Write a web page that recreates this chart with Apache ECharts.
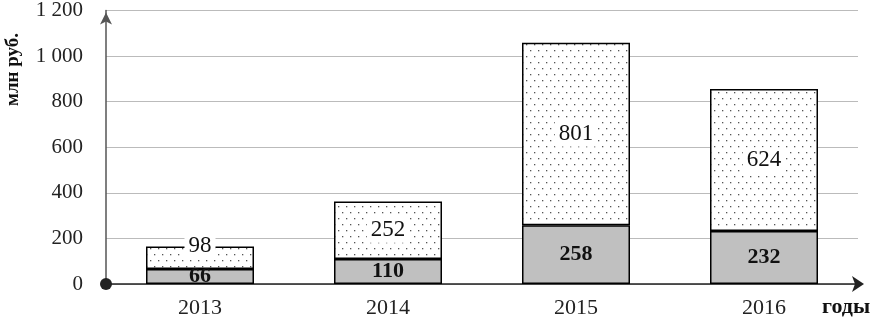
<!DOCTYPE html>
<html><head><meta charset="utf-8">
<script src="https://cdn.jsdelivr.net/npm/echarts@6/dist/echarts.min.js"></script>
<style>html,body{margin:0;padding:0;background:#fff}#c{width:878px;height:319px}</style>
</head><body><div id="c"></div>
<script>
var categories = ['2013', '2014', '2015', '2016'];
var lowerValues = [66, 110, 258, 232];
var upperValues = [98, 252, 801, 624];
var yTicks = [0, 200, 400, 600, 800, 1000, 1200];

var tile = document.createElement('canvas');
tile.width = 16; tile.height = 12;
var g = tile.getContext('2d');
g.fillStyle = '#fff'; g.fillRect(0, 0, 16, 12);
g.fillStyle = '#555';
g.fillRect(2, 2, 1.3, 1.3);
g.fillRect(10, 2, 1.3, 1.3);
g.fillRect(6, 8, 1.3, 1.3);
g.fillRect(14, 8, 1.3, 1.3);

var serif = '"Liberation Serif", "Times New Roman", serif';
var chart = echarts.init(document.getElementById('c'));
chart.setOption({
  animation: false,
  grid: {left: 106, right: 20, top: 8, bottom: 34},
  xAxis: {
    type: 'category', data: categories,
    axisLine: {lineStyle: {color: '#222', width: 1.5}, symbol: ['circle', 'arrow'], symbolSize: [12, 12], symbolOffset: [0, 6]},
    axisTick: {show: false},
    axisLabel: {fontFamily: serif, fontSize: 22, color: '#222', margin: 13}
  },
  yAxis: {
    type: 'value', min: 0, max: 1200, interval: 200,
    axisLine: {show: true, lineStyle: {color: '#555', width: 1.5}, symbol: ['none', 'arrow'], symbolSize: [9, 12], symbolOffset: [0, -2]},
    axisTick: {show: false},
    splitLine: {lineStyle: {color: '#bbb', width: 1}},
    axisLabel: {fontFamily: serif, fontSize: 21, color: '#222', margin: 23,
      formatter: function (v) { return String(v).replace(/\B(?=(\d{3})+(?!\d))/g, ' '); }}
  },
  graphic: [
    {type: 'text', x: 4, y: 106, rotation: Math.PI / 2,
     style: {text: 'млн руб.', font: 'bold 19px ' + serif, fill: '#111'}},
    {type: 'text', x: 822, y: 296,
     style: {text: 'годы', font: 'bold 22px ' + serif, fill: '#111'}}
  ],
  series: [
    {type: 'bar', stack: 's', barWidth: 108, data: lowerValues,
     itemStyle: {color: '#c0c0c0', borderColor: '#000', borderWidth: 1.5},
     label: {show: true, position: 'inside', fontFamily: serif, fontSize: 22, fontWeight: 'bold', color: '#111'}},
    {type: 'bar', stack: 's', barWidth: 108,
     data: upperValues.map(function (v, i) {
       return i === 0 ? {value: v, label: {offset: [0, -12]}} : v;
     }),
     itemStyle: {color: {image: tile, repeat: 'repeat'}, borderColor: '#000', borderWidth: 1.5},
     label: {show: true, position: 'inside', fontFamily: serif, fontSize: 23, color: '#111',
       backgroundColor: '#fff', padding: [1, 4]}}
  ]
});
</script></body></html>
